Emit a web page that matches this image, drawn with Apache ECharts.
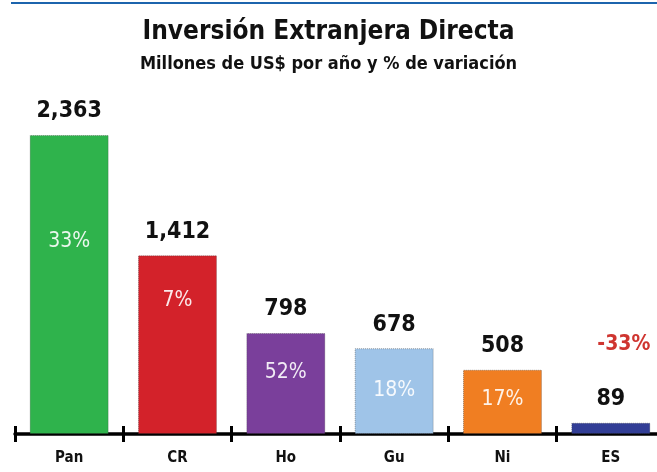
<!DOCTYPE html>
<html lang="es">
<head>
  <meta charset="UTF-8">
  <title>Inversión Extranjera Directa</title>
  <style>
    html, body { margin: 0; padding: 0; background: #fff; }
  </style>
</head>
<body>
<div id="main" style="width: 657px;height:472px;"></div>
<script src="https://cdn.jsdelivr.net/npm/echarts@6/dist/echarts.min.js"></script>
<script type="text/javascript">
  const countries = ['Pan', 'CR', 'Ho', 'Gu', 'Ni', 'ES']
  const investment = [2363, 1412, 798, 678, 508, 89]
  const variation = ['33%', '7%', '52%', '18%', '17%', '-33%']

  // look of the chart
  const barColors = ['#2fb34c', '#d3222a', '#7a3f9b', '#9fc4e8', '#f07e22', '#323e96']
  const pctDrop = [105, 44, 38, 41, 28, 0]   // px from bar top to the centre of the % label
  const narrow = '"Liberation Sans Narrow", "Arial Narrow", "DejaVu Sans Condensed", sans-serif'

  const Chart = echarts.init(document.getElementById('main'))

  const tick = {show: true, length: 8, lineStyle: {color: '#000', width: 3}}

  const option = {
    animation: false,
    title: {
      text: 'Inversión Extranjera Directa',
      subtext: 'Millones de US$ por año y % de variación',
      left: 'center',
      top: 14,
      itemGap: 10,
      textStyle: {fontFamily: narrow, fontWeight: 'bold', fontSize: 26, color: '#111'},
      subtextStyle: {fontFamily: narrow, fontWeight: 'bold', fontSize: 18, color: '#111'}
    },
    graphic: [{
      type: 'line',
      shape: {x1: 11, y1: 3, x2: 657, y2: 3},
      style: {stroke: '#1c64ad', lineWidth: 2}
    }],
    grid: {left: 15, width: 650, top: 135, bottom: 38, outerBoundsMode: 'none', containLabel: false},
    xAxis: [
      {
        type: 'category',
        data: countries,
        axisLine: {lineStyle: {color: '#000', width: 3.5}},
        axisTick: tick,
        axisLabel: {fontFamily: narrow, fontWeight: 'bold', fontSize: 15, color: '#111', margin: 17}
      },
      {
        type: 'category',
        data: countries,
        position: 'bottom',
        axisLine: {show: false},
        axisTick: Object.assign({}, tick, {inside: true}),
        axisLabel: {show: false}
      }
    ],
    yAxis: {
      type: 'value',
      min: 0,
      max: 2363,
      show: false,
      splitLine: {show: false}
    },
    series: [
      {
        type: 'bar',
        barWidth: 79,
        data: investment.map((v, i) => ({
          value: v,
          itemStyle: {color: barColors[i]}
        })),
        itemStyle: {borderColor: 'rgba(60,60,60,0.45)', borderWidth: 1, borderType: 'dotted'},
        label: {
          show: true,
          position: 'top',
          distance: 12,
          fontFamily: narrow,
          fontWeight: 'bold',
          fontSize: 23,
          color: '#111',
          formatter: (p) => p.value.toLocaleString('en-US')
        }
      },
      {
        type: 'bar',
        barWidth: 79,
        barGap: '-100%',
        silent: true,
        data: investment.map((v, i) => {
          const last = i === investment.length - 1
          return {
            value: v,
            label: last
              ? {position: 'top', distance: 68, offset: [13, 0], color: '#cf3530', fontWeight: 'bold', fontSize: 21}
              : {position: 'insideTop', distance: 0, offset: [0, pctDrop[i] - 9]}
          }
        }),
        itemStyle: {color: 'rgba(0,0,0,0)'},
        label: {
          show: true,
          fontFamily: narrow,
          fontSize: 21,
          color: 'rgba(255,255,255,0.9)',
          formatter: (p) => variation[p.dataIndex]
        }
      }
    ]
  }

  Chart.setOption(option)
</script>
</body>
</html>
